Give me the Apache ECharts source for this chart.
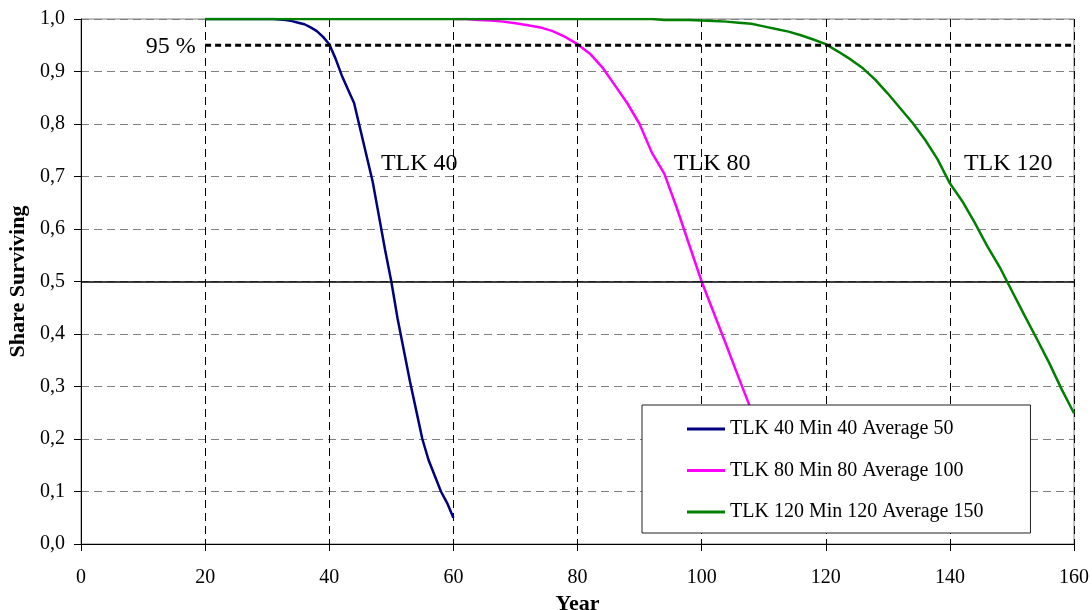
<!DOCTYPE html>
<html>
<head>
<meta charset="utf-8">
<script src="https://cdn.jsdelivr.net/npm/echarts@6/dist/echarts.min.js"></script>
<style>
html,body{margin:0;padding:0;background:#fff;}
#chart{width:1092px;height:610px;}
</style>
</head>
<body>
<div id="chart"></div>
<script>
// ---- data ----
const seriesNames = ['TLK 40 Min 40 Average 50', 'TLK 80 Min 80 Average 100', 'TLK 120 Min 120 Average 150'];
const seriesColors = ['#000080', '#FF00FF', '#008000'];

const years40 = [20,21,22,23,24,25,26,27,28,29,30,31,32,33,34,35,36,37,38,39,40,41,42,43,44,45,46,47,48,49,50,51,52,53,54,55,56,57,58,59,60];
const tlk40 = [1,1,1,1,1,1,1,1,1,1,1,1,0.999,0.998,0.996,0.993,0.99,0.984,0.977,0.966,0.952,0.925,0.893,0.866,0.84,0.79,0.74,0.69,0.625,0.56,0.5,0.43,0.37,0.31,0.255,0.2,0.16,0.13,0.1,0.078,0.05];

const years80 = [60,62,64,66,68,70,72,74,76,78,80,82,84,86,88,90,92,94,96,98,100,102,104,106,108,110,112,114,116,118,120];
const tlk80 = [1,1,0.998,0.997,0.995,0.992,0.988,0.984,0.977,0.966,0.952,0.934,0.908,0.874,0.84,0.8,0.745,0.705,0.64,0.57,0.5,0.439,0.378,0.316,0.255,0.2,0.16,0.13,0.1,0.078,0.05];

const years120 = [20,30,40,50,60,70,80,90,92,94,96,98,100,102,104,106,108,110,112,114,116,118,120,122,124,126,128,130,132,134,136,138,140,142,144,146,148,150,152,154,156,158,160];
const tlk120 = [1,1,1,1,1,1,1,1,1,0.998,0.998,0.998,0.997,0.996,0.995,0.993,0.991,0.986,0.981,0.976,0.969,0.961,0.952,0.938,0.923,0.906,0.884,0.858,0.83,0.802,0.77,0.733,0.687,0.653,0.612,0.568,0.528,0.482,0.436,0.391,0.345,0.295,0.249];

const thresholdYears = [20, 160];
const thresholdValue = 0.95;
const halfValue = 0.5;

const xTicks = {min: 0, max: 160, interval: 20};
const yTicks = {min: 0, max: 1, interval: 0.1};

const annotations = [
  {name: 'TLK 40', x: 54.5, y: 0.724},
  {name: 'TLK 80', x: 101.7, y: 0.724},
  {name: 'TLK 120', x: 149.4, y: 0.724}
];
const thresholdLabel = {name: '95 %', x: 19.3, y: 0.948};

// ---- chart ----
const FONT = "'Liberation Serif','Times New Roman',serif";
const zip = (xs, ys) => xs.map((x, i) => [x, ys[i]]);

const curveSeries = [zip(years40, tlk40), zip(years80, tlk80), zip(years120, tlk120)].map((d, i) => ({
  name: seriesNames[i],
  type: 'line',
  data: d,
  showSymbol: false,
  symbol: 'none',
  smooth: false,
  z: 3 + i,
  lineStyle: {color: seriesColors[i], width: 2.5},
  itemStyle: {color: seriesColors[i]}
}));

const option = {
  animation: false,
  backgroundColor: '#fff',
  grid: {left: 81, right: 18, top: 19, bottom: 66, containLabel: false, outerBoundsMode: 'none',
    show: true, borderColor: '#808080', borderWidth: 1},
  legend: {
    data: seriesNames,
    orient: 'vertical',
    left: 642, top: 405,
    icon: 'rect', itemWidth: 38, itemHeight: 3, itemGap: 21.5,
    padding: [14, 47, 11, 45],
    backgroundColor: '#fff', borderColor: '#222', borderWidth: 1,
    textStyle: {fontFamily: FONT, fontSize: 20, color: '#000'},
    z: 10
  },
  xAxis: {
    type: 'value', min: xTicks.min, max: xTicks.max, interval: xTicks.interval,
    name: 'Year', nameLocation: 'middle', nameGap: 45,
    nameTextStyle: {fontFamily: FONT, fontWeight: 'bold', fontSize: 22, color: '#000'},
    axisLine: {onZero: false, lineStyle: {color: '#000', width: 1}},
    axisTick: {length: 7, lineStyle: {color: '#000'}},
    axisLabel: {fontFamily: FONT, fontSize: 20, color: '#000', margin: 24},
    splitLine: {show: true, lineStyle: {color: '#000', type: [8, 5], width: 1}}
  },
  yAxis: {
    type: 'value', min: yTicks.min, max: yTicks.max, interval: yTicks.interval,
    name: 'Share Surviving', nameLocation: 'middle', nameGap: 52, nameRotate: 90,
    nameTextStyle: {fontFamily: FONT, fontWeight: 'bold', fontSize: 22, color: '#000'},
    axisLine: {show: true, onZero: false, lineStyle: {color: '#000', width: 1}},
    axisTick: {show: true, length: 7, lineStyle: {color: '#000'}},
    axisLabel: {fontFamily: FONT, fontSize: 20, color: '#000', margin: 16,
      formatter: v => v.toFixed(1).replace('.', ',')},
    splitLine: {show: true, lineStyle: {color: '#808080', type: [8, 5], width: 1}}
  },
  series: curveSeries.concat([{
    name: '95 %',
    type: 'line',
    data: thresholdYears.map(x => [x, thresholdValue]),
    showSymbol: false, symbol: 'none',
    z: 6,
    lineStyle: {color: '#000', width: 3, type: [6, 4]},
    markLine: {
      silent: true, symbol: ['none', 'none'],
      label: {show: false},
      lineStyle: {color: '#000', width: 1.5, type: 'solid'},
      data: [{yAxis: halfValue}]
    },
    markPoint: {
      silent: true,
      symbol: 'circle', symbolSize: 0,
      label: {show: true, position: 'inside', fontFamily: FONT, fontSize: 24, color: '#000', formatter: '{b}'},
      data: annotations.map(a => ({name: a.name, coord: [a.x, a.y]})).concat([{
        name: thresholdLabel.name, coord: [thresholdLabel.x, thresholdLabel.y],
        label: {position: 'left', distance: 5}
      }])
    }
  }])
};

const chart = echarts.init(document.getElementById('chart'), null, {renderer: 'canvas'});
chart.setOption(option);
</script>
</body>
</html>
